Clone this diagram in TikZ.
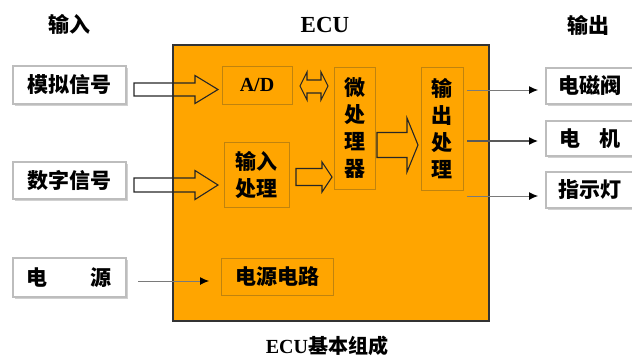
\documentclass[tikz,border=0pt]{standalone}
\usepackage{fontspec}
\setmainfont{Liberation Serif}
\newfontfamily\cjk{Noto Sans CJK SC}
\usetikzlibrary{shadows,arrows.meta}
\definecolor{ecuorange}{HTML}{FFA500}
\definecolor{innerline}{HTML}{C0830E}
\definecolor{boxline}{HTML}{BDBDBD}
\definecolor{wireline}{HTML}{7A7A7A}

% hollow block arrow: start x, tip x, centre y, shaft half-height, shaft end x, head half-height
\newcommand\blockarrow[6]{%
  \draw[blockarr] (#1,{#3-#4}) -- (#5,{#3-#4}) -- (#5,{#3-#6}) -- (#2,#3)
    -- (#5,{#3+#6}) -- (#5,{#3+#4}) -- (#1,{#3+#4}) -- cycle;}

\begin{document}
\begin{tikzpicture}[x=1pt,y=-1pt,
  iobox/.style={draw=boxline, line width=1.1pt, fill=white, inner sep=0pt,
    drop shadow={shadow xshift=1.5pt, shadow yshift=-1.5pt, fill=black!30, opacity=0.6},
    font=\cjk\bfseries\fontsize{21}{24}\selectfont},
  unit/.style={draw=innerline, line width=0.9pt, inner sep=0pt,
    font=\cjk\bfseries\fontsize{21}{27}\selectfont, align=center},
  title/.style={font=\cjk\bfseries\fontsize{21}{24}\selectfont},
  blockarr/.style={draw=black!85, line width=1.1pt, line join=miter},
  wire/.style={draw=wireline, line width=0.9pt, -{Latex[length=9pt,width=8pt,black]}}
]
\useasboundingbox (0,0) rectangle (632,357);

% headings
\node[title] (tin) at (69,24) {输入};
\node[font=\bfseries\fontsize{23}{24}\selectfont] (tecu) at (325,25) {ECU};
\node[title] (tout) at (588,25) {输出};
\node[font=\bfseries\fontsize{20}{24}\selectfont] (cap) at (327,346) {ECU{\cjk 基本组成}};

% control unit body
\node[draw=black!80, line width=1.2pt, fill=ecuorange, minimum width=316, minimum height=276,
  inner sep=0pt] (ecu) at (331,183) {};

% input side
\node[iobox, minimum width=113, minimum height=38] (ana) at (69.5,85) {模拟信号};
\node[iobox, minimum width=113, minimum height=37] (dig) at (69.5,180.5) {数字信号};
\node[iobox, minimum width=113, minimum height=39] (pwr) at (69.5,277.5) {电\hspace{43pt}源};

% output side
\node[iobox, minimum width=88, minimum height=36] (valve) at (590,86) {电磁阀};
\node[iobox, minimum width=88, minimum height=35] (motor) at (590,138.5) {电\hspace{20pt}机};
\node[iobox, minimum width=88, minimum height=36] (lamp) at (590,190) {指示灯};

% internal units
\node[unit, minimum width=70, minimum height=38,
  font=\bfseries\fontsize{20}{24}\selectfont] (ad) at (257,85) {A/D};
\node[unit, minimum width=65, minimum height=65] (inproc) at (256.5,174.5) {输入\\处理};
\node[unit, minimum width=41, minimum height=122] (cpu) at (354.5,128) {微\\处\\理\\器};
\node[unit, minimum width=42, minimum height=123] (outproc) at (442,128.5) {输\\出\\处\\理};
\node[unit, minimum width=112, minimum height=37] (psu) at (277,276.5) {电源电路};

% block arrows for data paths
\blockarrow{134}{218}{89.5}{6.5}{195}{14}
\blockarrow{134}{218}{185}{7}{195}{14.5}
\blockarrow{296}{332}{177}{8.5}{322}{15}
\blockarrow{377}{418}{145}{12.5}{407}{27}
% bidirectional link between A/D and the microprocessor
\draw[blockarr] (300,86) -- (307,72) -- (307,80) -- (321,80) -- (321,72) -- (328,86)
  -- (321,100) -- (321,93) -- (307,93) -- (307,100) -- cycle;

% thin signal lines
\coordinate (o1) at (467,90);  \coordinate (e1) at (538,90);
\coordinate (o2) at (467,141); \coordinate (e2) at (538,141);
\coordinate (o3) at (467,196); \coordinate (e3) at (538,196);
\coordinate (p1) at (138,281); \coordinate (p2) at (209,281);
\draw[wire] (o1) -- (e1);
\draw[wire, draw=black!65, line width=1.3pt] (o2) -- (e2);
\draw[wire] (o3) -- (e3);
\draw[wire] (p1) -- (p2);
\end{tikzpicture}
\end{document}
